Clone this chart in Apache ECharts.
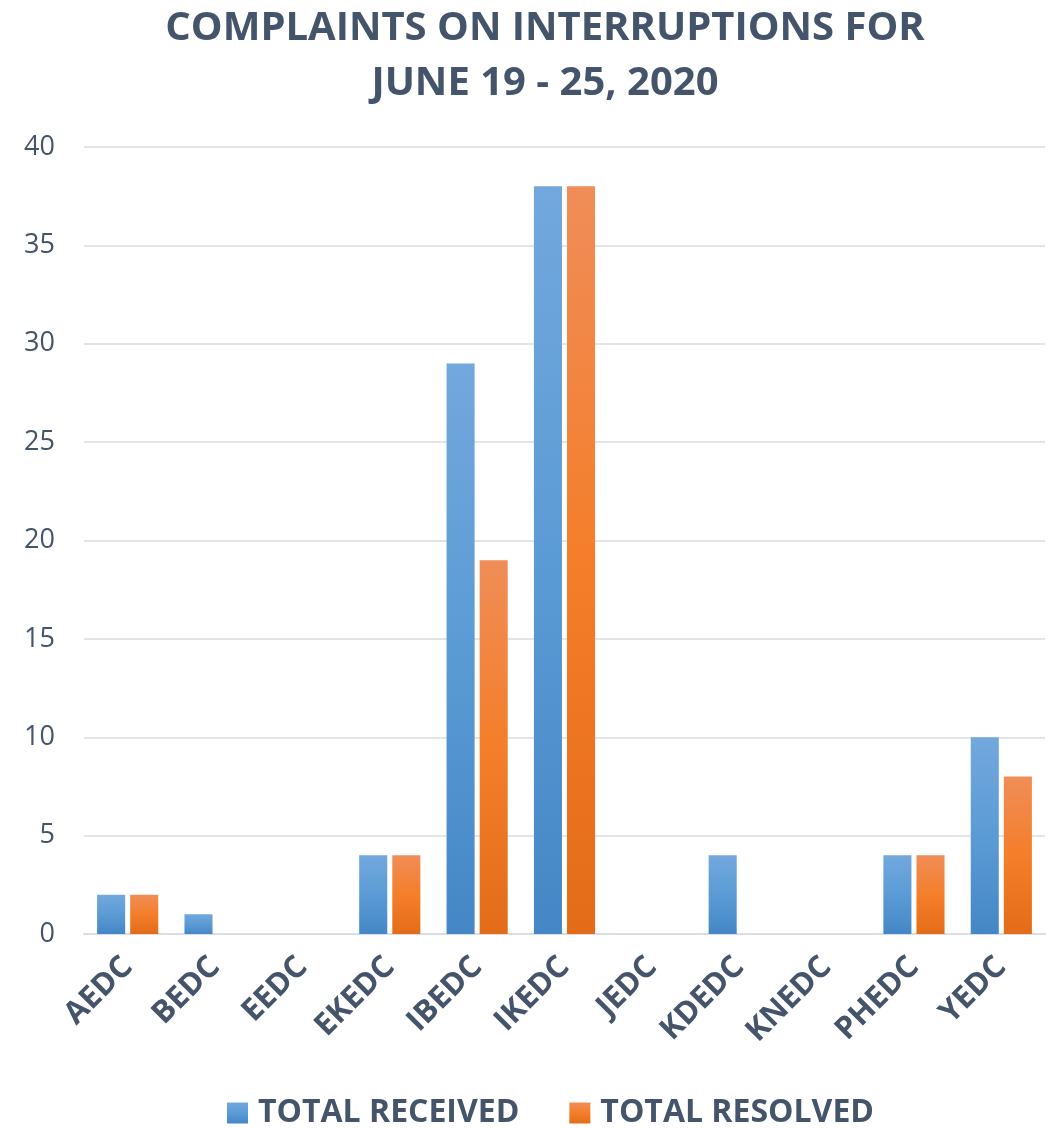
<!DOCTYPE html>
<html>
<head>
<meta charset="utf-8">
<script src="https://cdn.jsdelivr.net/npm/echarts@6/dist/echarts.min.js"></script>
<style>
  html, body { margin: 0; padding: 0; background: #fff; }
  #chart { width: 1053px; height: 1128px; }
</style>
</head>
<body>
<div id="chart"></div>
<script>
var categories = ['AEDC', 'BEDC', 'EEDC', 'EKEDC', 'IBEDC', 'IKEDC', 'JEDC', 'KDEDC', 'KNEDC', 'PHEDC', 'YEDC'];
var received = [2, 1, 0, 4, 29, 38, 0, 4, 0, 4, 10];
var resolved = [2, 0, 0, 4, 19, 38, 0, 0, 0, 4, 8];
var yTicks = { min: 0, max: 40, interval: 5 };

var textColor = '#44546A';
var fontName = 'Open Sans';

// 柱子渐变：上浅下深
function grad(top, mid, bottom) {
  return new echarts.graphic.LinearGradient(0, 0, 0, 1, [
    { offset: 0, color: top },
    { offset: 0.5, color: mid },
    { offset: 1, color: bottom }
  ]);
}

var chart = echarts.init(document.getElementById('chart'));

var option = {
  backgroundColor: '#fff',
  animation: false,
  title: {
    text: 'COMPLAINTS ON INTERRUPTIONS FOR\nJUNE 19 - 25, 2020',
    left: 'center',
    top: -4,
    textAlign: 'center',
    textStyle: {
      color: textColor,
      fontFamily: fontName,
      fontWeight: 'bold',
      fontSize: 40,
      lineHeight: 55
    }
  },
  legend: {
    top: 1092,
    left: 222,
    itemWidth: 21,
    itemHeight: 21,
    itemGap: 50,
    icon: 'rect',
    textStyle: {
      color: textColor,
      fontFamily: fontName,
      fontWeight: 'bold',
      fontSize: 32,
      padding: [0, 0, 0, 5]
    },
    data: ['TOTAL RECEIVED', 'TOTAL RESOLVED']
  },
  grid: {
    left: 84,
    right: 8,
    top: 147,
    bottom: 194
  },
  xAxis: {
    type: 'category',
    data: categories,
    axisLine: { lineStyle: { color: '#D9DEE3', width: 2 } },
    axisTick: { show: false },
    axisLabel: {
      rotate: 45,
      margin: 28,
      color: textColor,
      fontFamily: fontName,
      fontWeight: 'bold',
      fontSize: 31,
      interval: 0
    }
  },
  yAxis: {
    type: 'value',
    min: yTicks.min,
    max: yTicks.max,
    interval: yTicks.interval,
    axisLine: { show: false },
    axisTick: { show: false },
    splitLine: { lineStyle: { color: '#E1E4E8', width: 2 } },
    axisLabel: {
      margin: 29,
      color: textColor,
      fontFamily: fontName,
      fontSize: 27
    }
  },
  series: [{
    name: 'TOTAL RECEIVED',
    type: 'bar',
    data: received,
    barGap: '18%',
    barCategoryGap: '30%',
    itemStyle: { color: grad('#72A8DD', '#5B9BD5', '#4586C6') }
  }, {
    name: 'TOTAL RESOLVED',
    type: 'bar',
    data: resolved,
    itemStyle: { color: grad('#F08D58', '#F47E2A', '#E36C19') }
  }]
};

chart.setOption(option);
// 标题整体略偏右，与原图对齐
chart.setOption({ title: { left: 540 } });
</script>
</body>
</html>
